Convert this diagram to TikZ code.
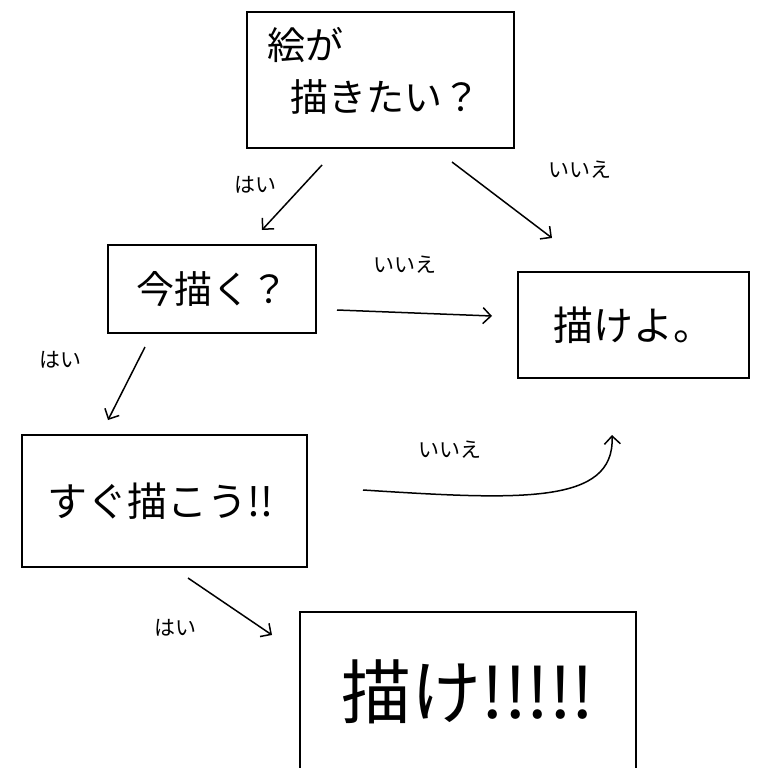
\documentclass[tikz,border=0pt]{standalone}
\usepackage{fontspec}
\usetikzlibrary{arrows.meta}
\newfontfamily\jp{Noto Sans CJK JP}
\begin{document}
\begin{tikzpicture}[x=1pt,y=-1pt,
  bx/.style={draw,line width=2pt},
  ar/.style={draw,line width=1.5pt,->,>={Straight Barb[length=8pt,width=16pt]}},
  lb/.style={font=\jp\fontsize{21}{21}\selectfont}]
\useasboundingbox[fill=white] (0,0) rectangle (768,768);
\draw[bx] (247,12) rectangle (514,148);
\node[font=\jp\fontsize{38}{52}\selectfont,align=left,anchor=north west] (t1) at (264,24) {絵が\\\hspace{0.6em}描きたい？};
\draw[bx] (108,245) rectangle (316,333);
\node[font=\jp\fontsize{38}{40}\selectfont] (t2) at (212,289) {今描く？};
\draw[bx] (518,272) rectangle (749,378);
\node[font=\jp\fontsize{40}{40}\selectfont] (t3) at (633,325) {描けよ。};
\draw[bx] (22,435) rectangle (307,567);
\node[font=\jp\fontsize{40}{40}\selectfont] (t4) at (160,501) {すぐ描こう!!};
\draw[bx] (300,612) rectangle (636,770);
\node[font=\jp\fontsize{70}{70}\selectfont] (t5) at (468,692) {描け!!!!!};
\coordinate (a1) at (322,165); \coordinate (a2) at (262,230);
\coordinate (b1) at (452,162); \coordinate (b2) at (552,238);
\coordinate (c1) at (337,310); \coordinate (c2) at (492,316);
\coordinate (d1) at (145,347); \coordinate (d2) at (108,420);
\coordinate (e1) at (363,490); \coordinate (e2) at (612,435);
\coordinate (f1) at (188,578); \coordinate (f2) at (272,635);
\draw[ar] (a1) -- (a2);
\draw[ar] (b1) -- (b2);
\draw[ar] (c1) -- (c2);
\draw[ar] (d1) -- (d2);
\draw[ar] (e1) .. controls (520,500) and (615,505) .. (e2);
\draw[ar] (f1) -- (f2);
\node[lb] (l1) at (255,185) {はい};
\node[lb] (l2) at (580,170) {いいえ};
\node[lb] (l3) at (405,265) {いいえ};
\node[lb] (l4) at (60,360) {はい};
\node[lb] (l5) at (450,450) {いいえ};
\node[lb] (l6) at (175,628) {はい};
\end{tikzpicture}
\end{document}
